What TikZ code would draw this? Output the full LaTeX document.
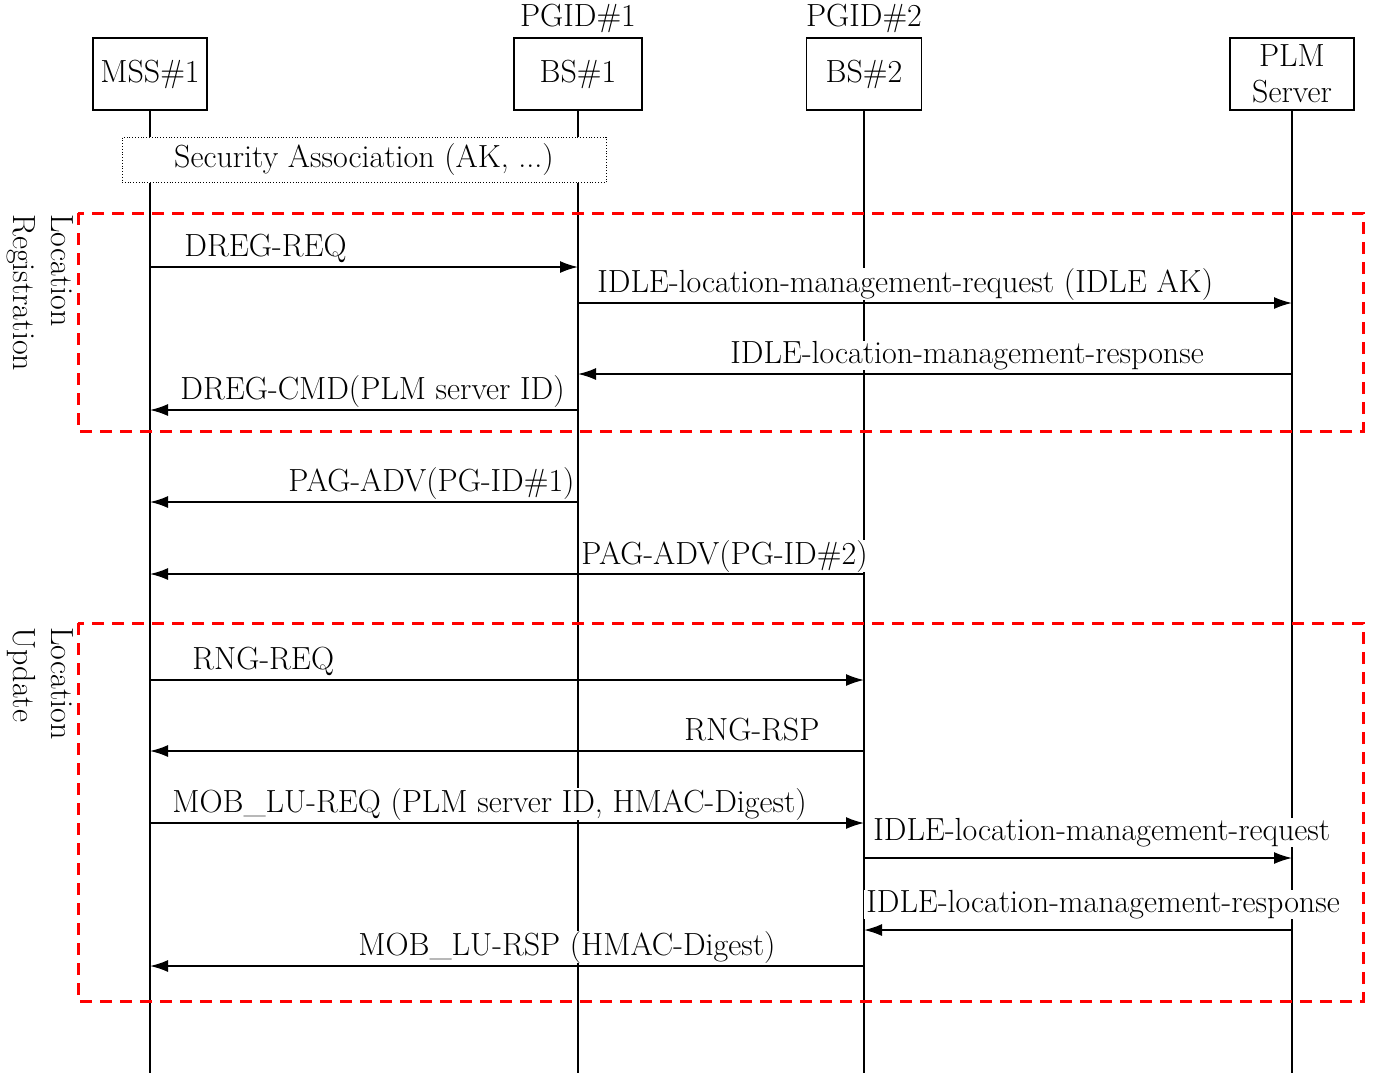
\documentclass[tikz,border=0pt]{standalone}
\usetikzlibrary{arrows.meta}

\begin{document}
\begin{tikzpicture}[x=0.5pt,y=-0.5pt,
    font=\fontsize{16}{19}\selectfont,
    entity/.style={draw, thick, minimum height=36pt, inner sep=2pt},
    msg/.style={thick, -{Latex[length=9pt,width=6pt]}},
    lbl/.style={fill=white, inner xsep=1pt, inner ysep=0pt, anchor=base west},
    region/.style={draw=red, line width=1.5pt, dash pattern=on 6pt off 4pt}]

    \useasboundingbox (0,0) rectangle (1383,1073);
    \coordinate (bottom) at (0,1073);                 % end of the lifelines

    \node [entity, minimum width=57pt] (mss) at (150,74) {MSS\#1};
    \node [entity, minimum width=64pt] (bs1) at (578,74) {BS\#1};
    \node [entity, minimum width=57.5pt] (bs2) at (864,74) {BS\#2};
    \node [entity, minimum width=62pt, align=center, font=\fontsize{16}{18}\selectfont]
        (plm) at (1292,74) {PLM\\Server};
    \node [above, inner sep=2pt] (pgid1) at (bs1.north) {PGID\#1};
    \node [above, inner sep=2pt] (pgid2) at (bs2.north) {PGID\#2};

\foreach \n in {mss,bs1,bs2,plm}
    \draw [thick] (\n.south) -- (\n.south |- bottom);    % lifelines

    \node [draw, densely dotted, fill=white, minimum width=242pt, minimum height=21.5pt]
        (sa) at (364,160) {Security Association (AK, ...)};

    % location registration
    \draw [msg] (mss |- 0,267) -- (bs1 |- 0,267);
    \node [lbl] (dregreq) at (182,256) {DREG-REQ};
    \draw [msg] (bs1 |- 0,303) -- (plm |- 0,303);
    \node [lbl] (lmreq1) at (595,292) {IDLE-location-management-request (IDLE AK)};
    \draw [msg] (plm |- 0,374) -- (bs1 |- 0,374);
    \node [lbl] (lmrsp1) at (728,363) {IDLE-location-management-response};
    \draw [msg] (bs1 |- 0,410) -- (mss |- 0,410);
    \node [lbl] (dregcmd) at (178,399) {DREG-CMD(PLM server ID)};

    % paging
    \draw [msg] (bs1 |- 0,502) -- (mss |- 0,502);
    \node [lbl] (pagadv1) at (286,491) {PAG-ADV(PG-ID\#1)};
    \draw [msg] (bs2 |- 0,574) -- (mss |- 0,574);
    \node [lbl] (pagadv2) at (579,564) {PAG-ADV(PG-ID\#2)};

    % location update
    \draw [msg] (mss |- 0,680) -- (bs2 |- 0,680);
    \node [lbl] (rngreq) at (190,669) {RNG-REQ};
    \draw [msg] (bs2 |- 0,751) -- (mss |- 0,751);
    \node [lbl] (rngrsp) at (682,740) {RNG-RSP};
    \draw [msg] (mss |- 0,823) -- (bs2 |- 0,823);
    \node [lbl] (lureq) at (170,812) {MOB\_LU-REQ (PLM server ID, HMAC-Digest)};
    \draw [msg] (bs2 |- 0,858) -- (plm |- 0,858);
    \node [lbl] (lmreq2) at (871,840) {IDLE-location-management-request};
    \draw [msg] (plm |- 0,930) -- (bs2 |- 0,930);
    \node [lbl] (lmrsp2) at (864,912) {IDLE-location-management-response};
    \draw [msg] (bs2 |- 0,966) -- (mss |- 0,966);
    \node [lbl] (lursp) at (356,955) {MOB\_LU-RSP (HMAC-Digest)};

    \draw [region] (78,213) rectangle (1363,431);     % registration frame
    \draw [region] (78,623) rectangle (1363,1001);    % update frame
    \node [rotate=-90, anchor=north west, align=left, inner sep=0pt]
        (reg) at (74,214) {Location\\Registration};
    \node [rotate=-90, anchor=north west, align=left, inner sep=0pt]
        (upd) at (74,627) {Location\\Update};

\end{tikzpicture}
\end{document}
